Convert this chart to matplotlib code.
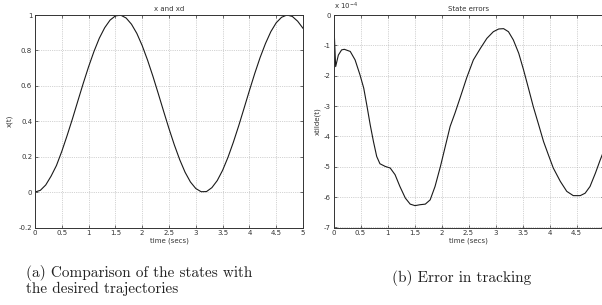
import matplotlib.pyplot as plt

plt.rcParams['axes.unicode_minus'] = False
plt.rcParams['font.family'] = 'DejaVu Sans'

# (a) state x(t) together with xd
t_state = [0.0, 0.1, 0.2, 0.3, 0.4, 0.5, 0.6, 0.7, 0.8, 0.9,
           1.0, 1.1, 1.2, 1.3, 1.4, 1.5, 1.6, 1.7, 1.8, 1.9,
           2.0, 2.1, 2.2, 2.3, 2.4, 2.5, 2.6, 2.7, 2.8, 2.9,
           3.0, 3.1, 3.2, 3.3, 3.4, 3.5, 3.6, 3.7, 3.8, 3.9,
           4.0, 4.1, 4.2, 4.3, 4.4, 4.5, 4.6, 4.7, 4.8, 4.9, 5.0]
x_state = [0.0, 0.01, 0.04, 0.09, 0.15, 0.23, 0.32, 0.415, 0.515, 0.614,
           0.708, 0.794, 0.869, 0.928, 0.971, 0.995, 0.999, 0.983, 0.948, 0.896,
           0.827, 0.745, 0.654, 0.556, 0.456, 0.358, 0.266, 0.183, 0.112, 0.057,
           0.02, 0.002, 0.003, 0.025, 0.065, 0.123, 0.196, 0.281, 0.374, 0.473,
           0.573, 0.67, 0.76, 0.839, 0.906, 0.956, 0.987, 1.0, 0.992, 0.965, 0.925]

# (b) tracking error, in units of 1e-4
t_err = [0.0, 0.04, 0.09, 0.15, 0.2, 0.31, 0.4, 0.49, 0.56, 0.62, 0.68, 0.74,
         0.8, 0.86, 0.96, 1.05, 1.14, 1.23, 1.33, 1.42, 1.51, 1.6, 1.7, 1.79,
         1.88, 1.98, 2.07, 2.16, 2.25, 2.35, 2.47, 2.59, 2.72, 2.84, 2.96, 3.06,
         3.15, 3.24, 3.33, 3.43, 3.52, 3.61, 3.7, 3.8, 3.89, 3.98, 4.07, 4.2,
         4.32, 4.44, 4.57, 4.66, 4.75, 4.85, 4.94, 5.0]
err = [0.0, -1.7, -1.32, -1.15, -1.13, -1.2, -1.48, -1.97, -2.41, -3.0, -3.62, -4.17,
       -4.66, -4.9, -4.99, -5.04, -5.26, -5.65, -6.03, -6.23, -6.28, -6.25, -6.23, -6.09,
       -5.65, -4.99, -4.33, -3.67, -3.23, -2.7, -2.05, -1.48, -1.1, -0.77, -0.55, -0.46,
       -0.45, -0.55, -0.82, -1.26, -1.81, -2.41, -3.02, -3.62, -4.17, -4.61, -5.04, -5.48,
       -5.81, -5.95, -5.95, -5.87, -5.65, -5.21, -4.77, -4.5]

x_ticks = [0, 0.5, 1, 1.5, 2, 2.5, 3, 3.5, 4, 4.5, 5]
x_ticklabels = ['0', '0.5', '1', '1.5', '2', '2.5', '3', '3.5', '4', '4.5', '5']
ya_ticks = [-0.2, 0, 0.2, 0.4, 0.6, 0.8, 1]
ya_ticklabels = ['-0.2', '0', '0.2', '0.4', '0.6', '0.8', '1']
yb_ticks = [-7, -6, -5, -4, -3, -2, -1, 0]
yb_ticklabels = ['-7', '-6', '-5', '-4', '-3', '-2', '-1', '0']

W, H = 602, 305
fig = plt.figure(figsize=(W / 100, H / 100), dpi=100)
ax1 = fig.add_axes([35 / W, 1 - 227.5 / H, 268 / W, 212.5 / H])
ax2 = fig.add_axes([333.5 / W, 1 - 227.5 / H, 270 / W, 212.5 / H])

fs = 5
line_col = '#1a1a1a'
frame_col = '#333333'


def matlab_style(ax, yticks, ylabels):
    ax.set_xlim(0, 5)
    ax.set_xticks(x_ticks)
    ax.set_xticklabels(x_ticklabels)
    ax.set_yticks(yticks)
    ax.set_yticklabels(ylabels)
    ax.tick_params(direction='in', length=2.5, width=0.5, labelsize=fs,
                   top=True, right=True, pad=2, colors=frame_col)
    ax.grid(True, linestyle=':', linewidth=0.5, color='#aaaaaa')
    for sp in ax.spines.values():
        sp.set_linewidth(0.7)
        sp.set_color(frame_col)
    ax.set_xlabel('time (secs)', fontsize=fs, labelpad=1, color=frame_col)


ax1.plot(t_state, x_state, color=line_col, linewidth=0.8)
ax1.set_ylim(-0.2, 1)
matlab_style(ax1, ya_ticks, ya_ticklabels)
ax1.set_ylabel('x(t)', fontsize=fs, labelpad=4, color=frame_col)
ax1.set_title('x and xd', fontsize=fs, pad=3, color=frame_col)

ax2.plot(t_err, err, color=line_col, linewidth=0.8)
ax2.set_ylim(-7, 0)
matlab_style(ax2, yb_ticks, yb_ticklabels)
ax2.set_ylabel('xtilde(t)', fontsize=fs, labelpad=2, color=frame_col)
ax2.set_title('State errors', fontsize=fs, pad=3, color=frame_col)
ax2.text(0.0, 1.012, r'x 10$^{-4}$', transform=ax2.transAxes, fontsize=fs,
         ha='left', va='bottom', color=frame_col)

# captions below the panels
cap = dict(fontsize=11, family='cmr10', color='#222222')
fig.text(26 / W, 1 - 273 / H, '(a) Comparison of the states with', ha='left', va='center', **cap)
fig.text(26 / W, 1 - 289 / H, 'the desired trajectories', ha='left', va='center', **cap)
fig.text(462 / W, 1 - 278 / H, '(b) Error in tracking', ha='center', va='center', **cap)

fig.savefig('out.png', dpi=100)
